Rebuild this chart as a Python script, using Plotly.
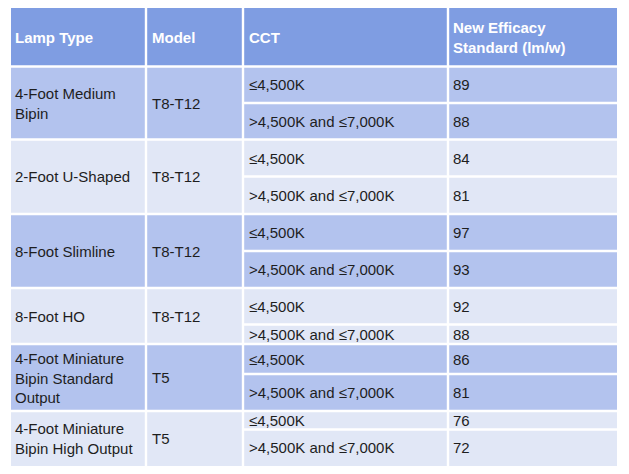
import plotly.graph_objects as go

# table content
headers = ["Lamp Type", "Model", "CCT", "New Efficacy<br>Standard (lm/w)"]
lamp_types = ["4-Foot Medium<br>Bipin", "2-Foot U-Shaped", "8-Foot Slimline",
              "8-Foot HO", "4-Foot Miniature<br>Bipin Standard<br>Output",
              "4-Foot Miniature<br>Bipin High Output"]
models = ["T8-T12", "T8-T12", "T8-T12", "T8-T12", "T5", "T5"]
cct_low = "≤4,500K"
cct_high = ">4,500K and ≤7,000K"
eff_low = [89, 84, 97, 92, 86, 76]
eff_high = [88, 81, 93, 88, 81, 72]

# layout (pixel grid of the page; the figure sits 8px in because of body margin)
W, H = 629, 474
OFF = 8
col_x = [11, 146, 243, 448, 617]
text_pad = [2, 4, 4, 3]
top = 8
header_bot = 66.5
group_y = [66.5, 139.5, 214, 288, 344, 411, 466]   # group boundaries
split_y = [103, 176.5, 251, 324.5, 374, 429.5]     # sub-row boundaries

HEAD = "#7f9de2"
DARK = "#b3c3ee"
LIGHT = "#e1e7f6"
TXT = "#1e1e1e"
FONT = "Liberation Sans, Arial, sans-serif"

fig = go.Figure()
shapes = []
annots = []

def rect(x0, x1, y0, y1, color):
    shapes.append(dict(type="rect", xref="x", yref="y", x0=x0, x1=x1, y0=y0, y1=y1,
                       fillcolor=color, line=dict(width=0), layer="below"))

def line(x0, x1, y0, y1):
    shapes.append(dict(type="line", xref="x", yref="y", x0=x0, x1=x1, y0=y0, y1=y1,
                       line=dict(color="white", width=2.4)))

def text(x, y, s, bold=False, color=TXT):
    annots.append(dict(x=x, y=y, xref="x", yref="y", text=s, showarrow=False,
                       xanchor="left", yanchor="middle", align="left",
                       font=dict(family=FONT, size=15, color=color,
                                 weight="bold" if bold else "normal")))

# header
rect(col_x[0], col_x[-1], top, header_bot, HEAD)
for i, h in enumerate(headers):
    text(col_x[i] + text_pad[i], (top + header_bot) / 2, h, bold=True, color="white")

# body groups
for g in range(len(lamp_types)):
    y0, y1, ys = group_y[g], group_y[g + 1], split_y[g]
    rect(col_x[0], col_x[-1], y0, y1, DARK if g % 2 == 0 else LIGHT)
    mid = (y0 + y1) / 2
    text(col_x[0] + text_pad[0], mid, lamp_types[g])
    text(col_x[1] + text_pad[1], mid, models[g])
    text(col_x[2] + text_pad[2], (y0 + ys) / 2, cct_low)
    text(col_x[2] + text_pad[2], (ys + y1) / 2, cct_high)
    text(col_x[3] + text_pad[3], (y0 + ys) / 2, str(eff_low[g]))
    text(col_x[3] + text_pad[3], (ys + y1) / 2, str(eff_high[g]))
    line(col_x[2], col_x[-1], ys, ys)

# grid lines
for y in group_y[:-1]:
    line(col_x[0], col_x[-1], y, y)
for x in col_x[1:-1]:
    line(x, x, top, group_y[-1])

fig.update_layout(
    width=W - OFF, height=H - OFF,
    margin=dict(l=0, r=0, t=0, b=0),
    paper_bgcolor="white", plot_bgcolor="white",
    xaxis=dict(range=[OFF, W], visible=False, fixedrange=True),
    yaxis=dict(range=[H, OFF], visible=False, fixedrange=True),
    shapes=shapes, annotations=annots, showlegend=False,
)

fig.write_html("out.html")
